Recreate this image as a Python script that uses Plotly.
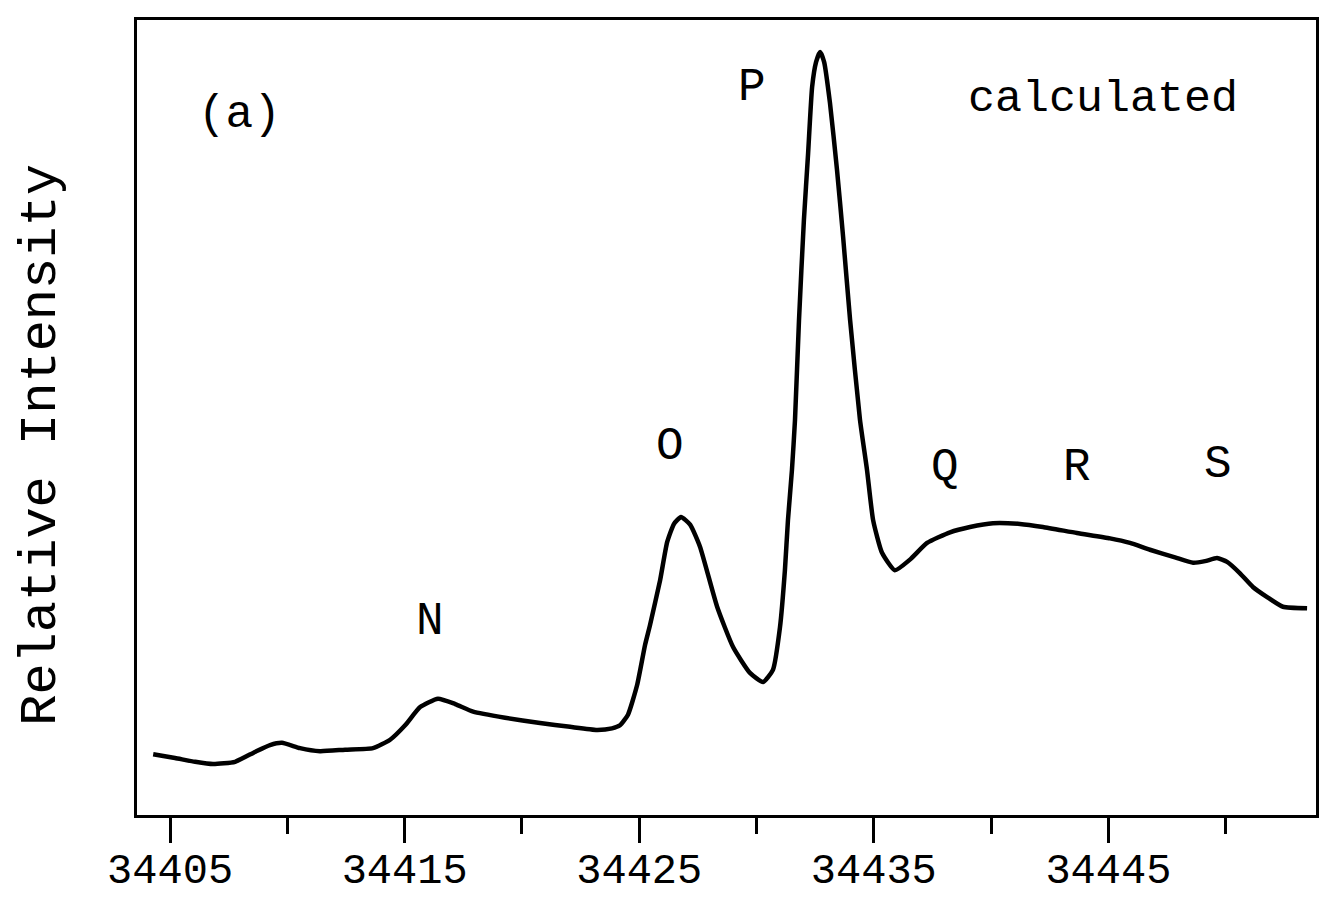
import plotly.graph_objects as go

# Wavenumber (cm^-1) and relative intensity
wavenumber = [
    34404.28, 34405.21, 34406.07, 34406.83, 34407.77, 34408.62, 34409.26, 34409.77,
    34410.54, 34411.39, 34412.46, 34413.65, 34414.38, 34415.02, 34415.66, 34416.42,
    34417.15, 34417.92, 34419.28, 34420.77, 34422.05, 34423.20, 34423.84, 34424.18,
    34424.52, 34424.91, 34425.25, 34425.46, 34425.89, 34426.19, 34426.48, 34426.78,
    34427.17, 34427.59, 34428.32, 34429.00, 34429.72, 34430.28, 34430.70, 34431.00,
    34431.21, 34431.34, 34431.51, 34431.64, 34431.81, 34432.02, 34432.20, 34432.37,
    34432.54, 34432.71, 34432.88, 34433.13, 34433.43, 34433.69, 34433.99, 34434.41,
    34434.71, 34434.97, 34435.35, 34435.90, 34436.54, 34437.27, 34438.25, 34439.10,
    34440.08, 34441.23, 34442.21, 34443.66, 34445.07, 34445.92, 34446.77, 34447.84,
    34448.61, 34449.12, 34449.63, 34450.06, 34450.61, 34451.16, 34451.80, 34452.44,
    34453.47,
]
intensity = [
    8.0, 7.5, 7.0, 6.7, 7.0, 8.3, 9.2, 9.5,
    8.8, 8.4, 8.6, 8.8, 9.9, 11.8, 14.2, 15.3,
    14.6, 13.6, 12.8, 12.1, 11.6, 11.2, 11.4, 11.8,
    13.2, 17.1, 22.4, 25.0, 30.9, 35.9, 38.3, 39.2,
    38.2, 35.3, 27.4, 22.1, 18.7, 17.5, 19.1, 24.7,
    32.2, 38.8, 45.4, 52.0, 65.1, 78.3, 87.1, 95.8,
    99.1, 100.4, 99.1, 93.7, 84.9, 76.1, 65.1, 52.0,
    45.4, 38.8, 34.5, 32.2, 33.6, 35.8, 37.2, 37.9,
    38.4, 38.3, 37.9, 37.1, 36.4, 35.8, 34.9, 33.9,
    33.2, 33.4, 33.8, 33.3, 31.8, 30.0, 28.6, 27.4,
    27.2,
]

tick_values = [34405, 34415, 34425, 34435, 34445]
tick_labels = ["34405", "34415", "34425", "34435", "34445"]

peak_names = ["N", "O", "P", "Q", "R", "S"]
peak_x = [34416.08, 34426.31, 34429.81, 34438.03, 34443.66, 34449.67]
peak_y = [25.4, 48.4, 95.7, 45.7, 45.7, 46.1]

FONT = "Liberation Mono"

fig = go.Figure()
fig.add_trace(go.Scatter(
    x=wavenumber, y=intensity, mode="lines",
    line=dict(color="black", width=4.5, shape="spline", smoothing=0.5),
    showlegend=False, hoverinfo="skip",
))

for name, px, py in zip(peak_names, peak_x, peak_y):
    fig.add_annotation(x=px, y=py, text=name, showarrow=False,
                       font=dict(family=FONT, size=46, color="black"),
                       xanchor="center", yanchor="middle")

fig.add_annotation(x=34407.98, y=92.1, text="(a)", showarrow=False,
                   font=dict(family=FONT, size=46, color="black"),
                   xanchor="center", yanchor="middle")
fig.add_annotation(x=34444.77, y=94.1, text="calculated", showarrow=False,
                   font=dict(family=FONT, size=45, color="black"),
                   xanchor="center", yanchor="middle")

fig.add_annotation(xref="paper", yref="paper", x=-0.081, y=0.465,
                   text="Relative Intensity", textangle=-90, showarrow=False,
                   font=dict(family=FONT, size=52, color="black"),
                   xanchor="center", yanchor="middle")

fig.update_xaxes(
    range=[34403.59, 34453.85],
    tickmode="array", tickvals=tick_values, ticktext=tick_labels,
    ticks="outside", ticklen=25, tickwidth=3, tickcolor="black",
    minor=dict(dtick=5, tick0=34405, ticks="outside", ticklen=16, tickwidth=3, tickcolor="black"),
    showline=True, linewidth=3, linecolor="black", mirror=True,
    showgrid=False, zeroline=False, automargin=False,
    ticklabelstandoff=-10,
    tickfont=dict(family=FONT, size=42, color="black"),
)
fig.update_yaxes(
    range=[0, 104.6],
    showticklabels=False, ticks="",
    showline=True, linewidth=3, linecolor="black", mirror=True,
    showgrid=False, zeroline=False, automargin=False,
)

fig.update_layout(
    width=1333, height=898,
    margin=dict(l=137, r=17, t=20, b=83),
    paper_bgcolor="white", plot_bgcolor="white",
    font=dict(family=FONT, color="black"),
)

fig.write_html("out.html")
